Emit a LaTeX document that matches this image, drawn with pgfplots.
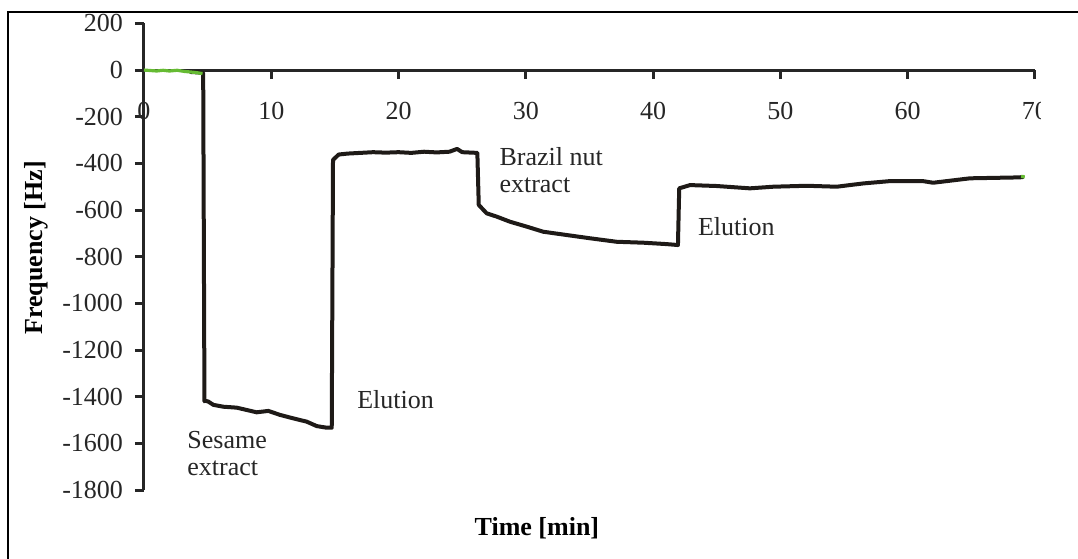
\documentclass[border=0pt]{standalone}
\usepackage{fontspec}
\setmainfont{Liberation Serif}
\usepackage{pgfplots}
\pgfplotsset{compat=1.18}

\definecolor{curve}{HTML}{1E1A17}
\definecolor{axisc}{HTML}{262626}
\definecolor{lgreen}{HTML}{66BB33}

\newcommand{\lbl}{\fontsize{13}{13.5}\selectfont}

\begin{document}
\begin{tikzpicture}
\begin{scope}
\clip (-72pt,-34pt) rectangle (448pt,245pt);
\begin{axis}[
  width=445.5pt, height=233.3pt,
  scale only axis,
  xmin=0, xmax=70,
  ymin=-1800, ymax=200,
  axis x line=middle,
  axis y line=left,
  axis line style={axisc, line width=1.5pt, -},
  hide obscured x ticks=false,
  hide obscured y ticks=false,
  tick align=outside,
  major tick length=4.5pt,
  tick style={axisc, line width=1.5pt},
  xtick={0,10,20,30,40,50,60,70},
  xticklabels={0,10,20,30,40,50,60,70},
  ytick={200,0,-200,-400,-600,-800,-1000,-1200,-1400,-1600,-1800},
  yticklabels={200,0,-200,-400,-600,-800,-1000,-1200,-1400,-1600,-1800},
  every tick label/.append style={font=\lbl, text=axisc},
  xticklabel style={anchor=north, yshift=-8pt},
  yticklabel style={anchor=east, xshift=-2.5pt},
  xlabel={\textbf{Time [min]}},
  ylabel={\textbf{Frequency [Hz]}},
  xlabel style={font=\lbl, at={(axis description cs:0.441,-0.0814)}, anchor=center},
  ylabel style={font=\lbl, at={(axis description cs:-0.121,0.519)}, anchor=center},
  clip=false,
]
% Hauptkurve
\addplot[curve, line width=2pt, line join=round] coordinates {
  (3.6,-8) (4.2,-10) (4.65,-12) (4.75,-1420)
  (4.79,-1417) (5.05,-1421) (5.45,-1435) (6.23,-1443) (7.28,-1447)
  (8.07,-1457) (8.85,-1467) (9.77,-1461) (10.68,-1478) (11.73,-1493)
  (12.78,-1507) (13.57,-1526) (14.35,-1533) (14.75,-1533)
  (14.85,-385) (15.3,-362) (16,-358) (17,-355) (18,-352) (19,-354)
  (20,-352) (21,-355) (22,-350) (23,-353) (24,-350) (24.6,-338)
  (25,-352) (26.19,-355)
  (26.3,-578) (26.92,-614) (27.7,-628) (28.75,-650) (30.06,-671)
  (31.37,-693) (33.2,-707) (35.04,-721) (37.13,-736) (39.23,-740)
  (41.06,-746) (41.95,-750)
  (42.05,-507) (42.9,-493) (44.99,-497) (47.6,-507) (49.44,-500)
  (52.06,-496) (54.42,-500) (56.5,-486) (58.6,-476) (61.2,-476)
  (62.0,-483) (64.9,-464) (68.8,-460) (69.1,-458)
};
% Anfangs- und Endstueck (gruen)
\addplot[lgreen, line width=1.6pt, line join=round] coordinates {
  (0,0) (1,-4) (1.5,-1) (2,-4) (2.6,-1) (3.2,-6) (4,-10) (4.6,-15)
};
\addplot[lgreen, line width=1.6pt] coordinates {(68.9,-456) (69.2,-458)};

\node[anchor=west, align=left, inner sep=0pt, font=\lbl, text=axisc]
  at (axis cs:3.38,-1643) {Sesame\\extract};
\node[anchor=west, inner sep=0pt, font=\lbl, text=axisc]
  at (axis cs:16.73,-1414) {Elution};
\node[anchor=west, align=left, inner sep=0pt, font=\lbl, text=axisc]
  at (axis cs:27.9,-428) {Brazil nut\\extract};
\node[anchor=west, inner sep=0pt, font=\lbl, text=axisc]
  at (axis cs:43.5,-673) {Elution};
\end{axis}
\end{scope}
\draw[black, line width=1pt] (-68pt,-40pt) -- (-68pt,239pt) -- (470pt,239pt);
\pgfresetboundingbox
\path[use as bounding box] (-72pt,-34pt) rectangle (467pt,245pt);
\end{tikzpicture}
\end{document}
